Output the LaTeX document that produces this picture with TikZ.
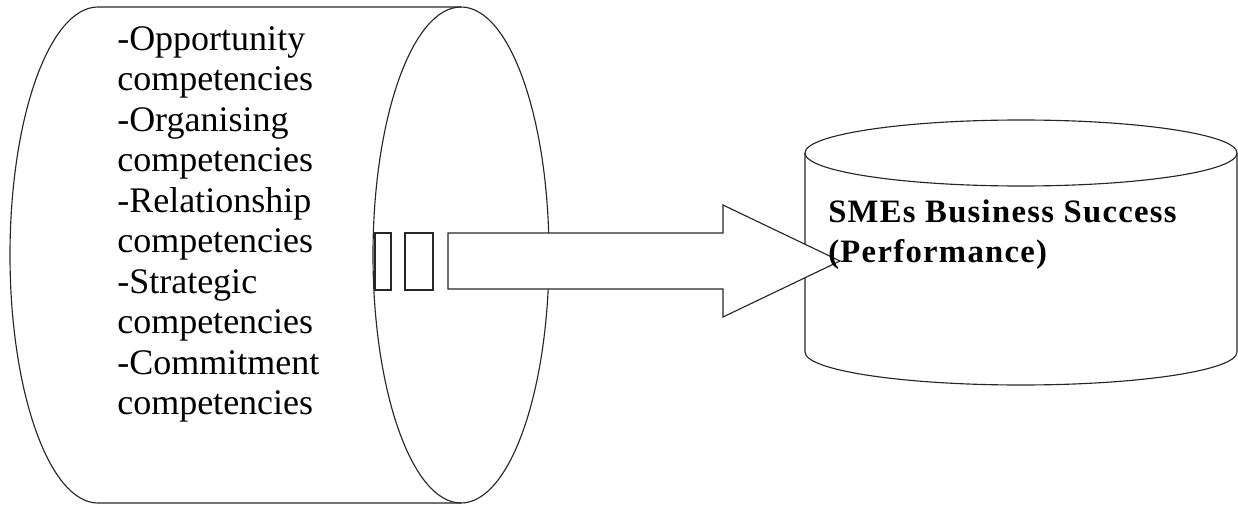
\documentclass[tikz,border=0pt]{standalone}
\usepackage{fontspec}
\setmainfont{Liberation Serif}
\begin{document}
\begin{tikzpicture}[x=0.75pt,y=-0.75pt,
  shape line/.style={draw=black!85,line width=0.85pt},
  listtext/.style={font=\fontsize{27pt}{30.4pt}\selectfont,align=left,inner sep=0pt,anchor=north west},
  boldtext/.style={font=\fontsize{24.5pt}{30pt}\selectfont\bfseries\addfontfeatures{LetterSpace=4},align=left,inner sep=0pt,anchor=north west}]
\useasboundingbox (0,0) rectangle (1238,510);
% left (horizontal) cylinder
\draw[shape line] (461,7) -- (98,7) arc[start angle=90,end angle=270,x radius=66pt,y radius=186pt] -- (461,503);
\draw[shape line] (461,255) ellipse [x radius=66pt,y radius=186pt];
% right (vertical) cylinder
\draw[shape line] (805,153) -- (805,352) arc[start angle=180,end angle=360,x radius=162pt,y radius=24.75pt] -- (1237,153);
\draw[shape line] (1021,153) ellipse [x radius=162pt,y radius=24.75pt];
% striped arrow
\draw[shape line,fill=white] (375,233) rectangle (391,290);
\draw[shape line,fill=white] (405,233) rectangle (433,290);
\draw[shape line,fill=white] (448,233) -- (723,233) -- (723,205) -- (840,261) -- (723,317) -- (723,289) -- (448,289) -- cycle;
% texts
\node[listtext] (list) at (117,26) {-Opportunity\\competencies\\-Organising\\competencies\\-Relationship\\competencies\\-Strategic\\competencies\\-Commitment\\competencies};
\node[boldtext] (sme) at (828,200) {SMEs Business Success\\(Performance)};
\end{tikzpicture}
\end{document}
